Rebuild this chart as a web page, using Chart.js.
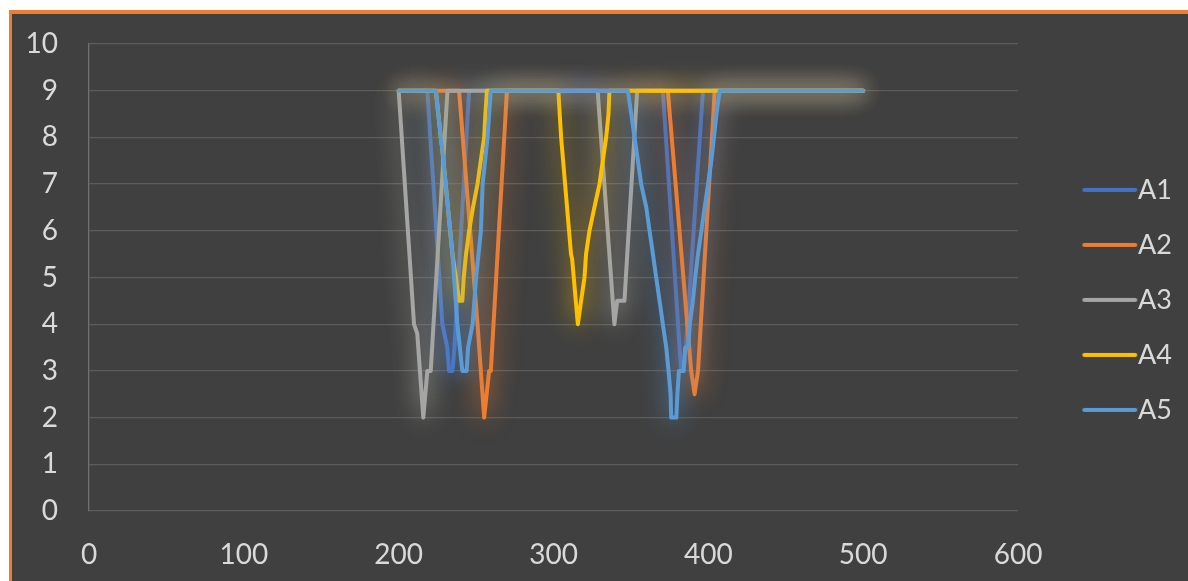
<!DOCTYPE html>
<html>
<head>
<meta charset="utf-8">
<script src="https://cdn.jsdelivr.net/npm/chart.js@4/dist/chart.umd.min.js"></script>
<style>
  body { margin: 0; background: #ffffff; }
  #cadre {
    position: absolute; left: 9px; top: 10px; width: 1179px; height: 571px;
    border-left: 3px solid #ED7D31; border-top: 4px solid #ED7D31;
    background: #404040;
  }
  #zone { position: absolute; left: 0; top: 0; width: 1176px; height: 567px; }
</style>
</head>
<body>
<div id="cadre"><div id="zone"><canvas id="lineChart"></canvas></div></div>
<script>
// series A1..A5, points [x, y]
var a1Points = [[200, 9], [218.5, 9], [228.2, 4], [231.4, 3.5], [232.5, 3], [234.7, 3], [236, 3.5], [245.5, 9],
    [370.6, 9], [381.4, 3.5], [382.5, 3], [384, 3], [385.5, 3.5], [396.5, 9], [500, 9]];
var a2Points = [[200, 9], [239, 9], [250.9, 4], [255.2, 2], [258.4, 3], [259.5, 3], [269.9, 9],
    [373.8, 9], [388.9, 3], [391.1, 2.5], [393.3, 3], [404.1, 9], [500, 9]];
var a3Points = [[200, 9], [209.9, 4], [212, 3.8], [215.9, 2], [218.5, 3], [220.7, 3], [231.5, 9],
    [328.5, 9], [339.3, 4], [341.1, 4.5], [345.8, 4.5], [354, 9], [500, 9]];
var a4Points = [[200, 9], [224, 9], [227.2, 8], [228, 7.8], [234.7, 5.5], [236.9, 5], [239, 4.5], [241.1, 4.5],
    [242, 5], [243.5, 5.5], [245.5, 6], [248, 6.5], [250.9, 7], [253, 7.5], [255.2, 8], [256, 8.5], [257, 9],
    [303.1, 9], [304.9, 8], [311.3, 5.5], [312, 5.4], [315.7, 4], [317.8, 4.5], [320, 5], [321, 5.5],
    [323.2, 6], [326.4, 6.5], [329.7, 7], [331.8, 7.5], [334, 8], [335.5, 8.5], [336.1, 9], [500, 9]];
var a5Points = [[200, 9], [224, 9], [227.2, 8], [228, 7.8], [234.7, 5.5], [237.9, 4], [239.5, 3.5], [241.1, 3],
    [243.9, 3], [244.8, 3.5], [247.7, 4], [250, 5], [253.1, 6], [254.2, 7], [257.4, 8], [259.5, 9],
    [348, 9], [350.2, 8.5], [352.3, 8], [354.5, 7.5], [356.6, 7], [359.9, 6.5], [362, 6], [364.2, 5.5],
    [366.3, 5], [368.5, 4.5], [370.6, 4], [372.8, 3.5], [374.3, 3], [375.6, 2.5], [376, 2], [379.3, 2],
    [380, 2.5], [381, 3], [384, 3], [385, 3.5], [387, 3.5], [388, 4], [390, 4.5], [391.5, 5], [393.3, 5.5],
    [395.5, 6], [397.6, 6.5], [399.8, 7], [401.9, 7.5], [403.6, 8], [405.2, 8.5], [407.3, 9], [500, 9]];

var noms = ["A1", "A2", "A3", "A4", "A5"];
var couleurs = ["#4472C4", "#ED7D31", "#A5A5A5", "#FFC000", "#5B9BD5"];
var halos = ["rgba(68,114,196,0.95)", "rgba(237,125,49,0.95)", "rgba(210,210,200,0.8)", "rgba(255,192,0,0.9)", "rgba(91,155,213,0.95)"];
var series = [a1Points, a2Points, a3Points, a4Points, a5Points];

var police = "Lato, 'Open Sans', sans-serif";

// petit trait de legende decale a droite dans une image
function TraitLegende(couleur) {
    var c = document.createElement('canvas');
    c.width = 110;
    c.height = 8;
    var g = c.getContext('2d');
    g.strokeStyle = couleur;
    g.lineWidth = 4;
    g.lineCap = 'round';
    g.beginPath();
    g.moveTo(54, 4);
    g.lineTo(105, 4);
    g.stroke();
    return c;
}
var traits = couleurs.map(TraitLegende);

function GenereTraits() {
    var dataset = [];
    for (var i = 0; i < series.length; i++) {
        dataset.push({
            label: noms[i],
            data: series[i].map(function (p) { return {x: p[0], y: p[1]}; }),
            borderColor: couleurs[i],
            backgroundColor: couleurs[i],
            borderWidth: 4,
            borderJoinStyle: 'round',
            borderCapStyle: 'round',
            pointRadius: 0,
            tension: 0,
            order: series.length - i
        });
    }
    return dataset;
}

var halo = {
    id: 'halo',
    beforeDatasetDraw: function (chart, args) {
        var ctx = chart.ctx;
        ctx.save();
        ctx.shadowColor = halos[args.index];
        ctx.shadowBlur = 24;
    },
    afterDatasetDraw: function (chart) {
        chart.ctx.restore();
    }
};

var graph = new Chart(document.getElementById("lineChart").getContext('2d'), {
    type: 'line',
    data: { datasets: GenereTraits() },
    plugins: [halo],
    options: {
        responsive: true,
        maintainAspectRatio: false,
        animation: false,
        events: [],
        layout: { padding: { top: 30, right: 6, bottom: 0, left: 0 } },
        scales: {
            x: {
                type: 'linear',
                min: 0,
                max: 600,
                grid: { display: false, drawTicks: false },
                border: { display: false },
                ticks: { stepSize: 100, color: '#D9D9D9', padding: 27, font: { family: police, size: 28 } },
                afterFit: function (scale) { scale.height = 70; }
            },
            y: {
                min: 0,
                max: 10,
                grid: { color: '#5c5c5c', lineWidth: 1.3, drawTicks: false },
                border: { display: true, color: '#707070', width: 1.3 },
                ticks: { stepSize: 1, color: '#D9D9D9', padding: 31, font: { family: police, size: 28 } },
                afterFit: function (scale) {
                    scale.width = 77;
                    scale.paddingTop = 0;
                    scale.paddingBottom = 0;
                }
            }
        },
        plugins: {
            tooltip: { enabled: false },
            legend: {
                position: 'right',
                align: 'start',
                title: { display: true, text: '', font: { size: 12 }, padding: { top: 90, bottom: 0 } },
                labels: {
                    usePointStyle: true,
                    pointStyleWidth: 78.5,
                    padding: 28,
                    color: '#D9D9D9',
                    font: { family: police, size: 27 },
                    generateLabels: function (chart) {
                        var items = Chart.defaults.plugins.legend.labels.generateLabels(chart);
                        items.forEach(function (it) { it.pointStyle = traits[it.datasetIndex]; });
                        return items;
                    },
                    sort: function (a, b) { return a.datasetIndex - b.datasetIndex; }
                }
            }
        }
    }
});
</script>
</body>
</html>
